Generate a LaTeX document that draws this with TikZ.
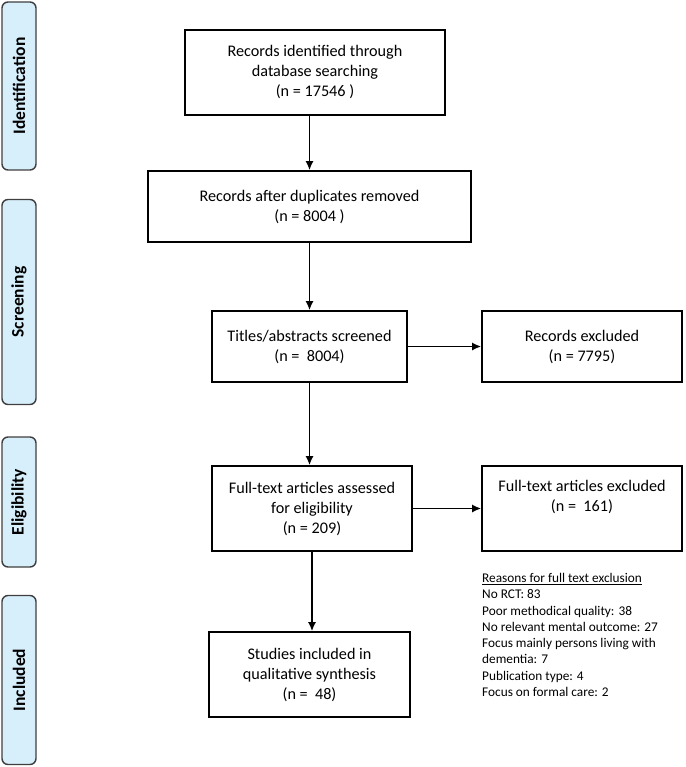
\documentclass[tikz,border=0pt]{standalone}
\usepackage{fontspec}
\setmainfont{Carlito}
\usetikzlibrary{arrows.meta}

\definecolor{phasefill}{HTML}{D7EEFB}
\definecolor{phaseline}{HTML}{3F3F3F}

\tikzset{
  flowbox/.style  = {shape=rectangle, draw, line width=1.6pt, align=center,
                     inner sep=0pt, font=\fontsize{16.2}{20}\selectfont},
  phase/.style    = {shape=rectangle, rounded corners=6pt, draw=phaseline,
                     line width=1.4pt, fill=phasefill, rotate=90,
                     minimum height=34pt, inner sep=0pt,
                     font=\fontsize{17.5}{20}\selectfont\bfseries},
  flow/.style     = {draw, line width=1.6pt, -{Latex[length=9pt,width=8pt]}},
  reasons/.style  = {align=left, anchor=north west, inner sep=0pt,
                     font=\fontsize{13.3}{16.3}\selectfont}
}

\begin{document}
\begin{tikzpicture}[x=1pt,y=-1pt]
\useasboundingbox (0,0) rectangle (685,767);

% phase labels
\node[phase, minimum width=168pt] (ident) at (19,86)  {Identification};
\node[phase, minimum width=205pt] (screen) at (19,302) {Screening};
\node[phase, minimum width=130pt] (elig)  at (19,502) {Eligibility};
\node[phase, minimum width=169pt] (incl)  at (19,680) {Included};

% main column
\node[flowbox, minimum width=260pt, minimum height=85pt] (ident1) at (315,72.5)
     {Records identified through\\database searching\\(n = 17546 )};
\node[flowbox, minimum width=323pt, minimum height=71pt] (dedup) at (309.5,206.5)
     {Records after duplicates removed\\(n = 8004 )};
\node[flowbox, minimum width=195pt, minimum height=71pt] (screened) at (309.5,346.5)
     {Titles/abstracts screened\\(n = \ 8004)};
\node[flowbox, minimum width=200pt, minimum height=85pt] (fulltext) at (312,508.5)
     {Full-text articles assessed\\for eligibility\\(n = 209)};
\node[flowbox, minimum width=201pt, minimum height=85pt] (included) at (309.5,674.5)
     {Studies included in\\qualitative synthesis\\(n = \ 48)};

% right column
\node[flowbox, minimum width=200pt, minimum height=71pt] (recexcl) at (582,346.5)
     {Records excluded\\(n = 7795)};
\node[flowbox, minimum width=200pt, minimum height=85pt] (ftexcl) at (582,508.5)
     {Full-text articles excluded\\(n = \ 161)\\\strut};

\node[reasons] (why) at (482,573)
     {\underline{Reasons for full text exclusion}\\
      No RCT: 83\\
      Poor methodical quality: 38\\
      No relevant mental outcome: 27\\
      Focus mainly persons living with\\
      dementia: 7\\
      Publication type: 4\\
      Focus on formal care: 2};

% connectors
\draw[flow] (dedup.north |- ident1.south) -- (dedup.north);
\draw[flow] (dedup.south) -- (screened.north);
\draw[flow] (screened.east) -- (recexcl.west);
\draw[flow] (screened.south) -- (screened.south |- fulltext.north);
\draw[flow] (fulltext.east) -- (ftexcl.west);
\draw[flow] (fulltext.south) -- (fulltext.south |- included.north);
\end{tikzpicture}
\end{document}
